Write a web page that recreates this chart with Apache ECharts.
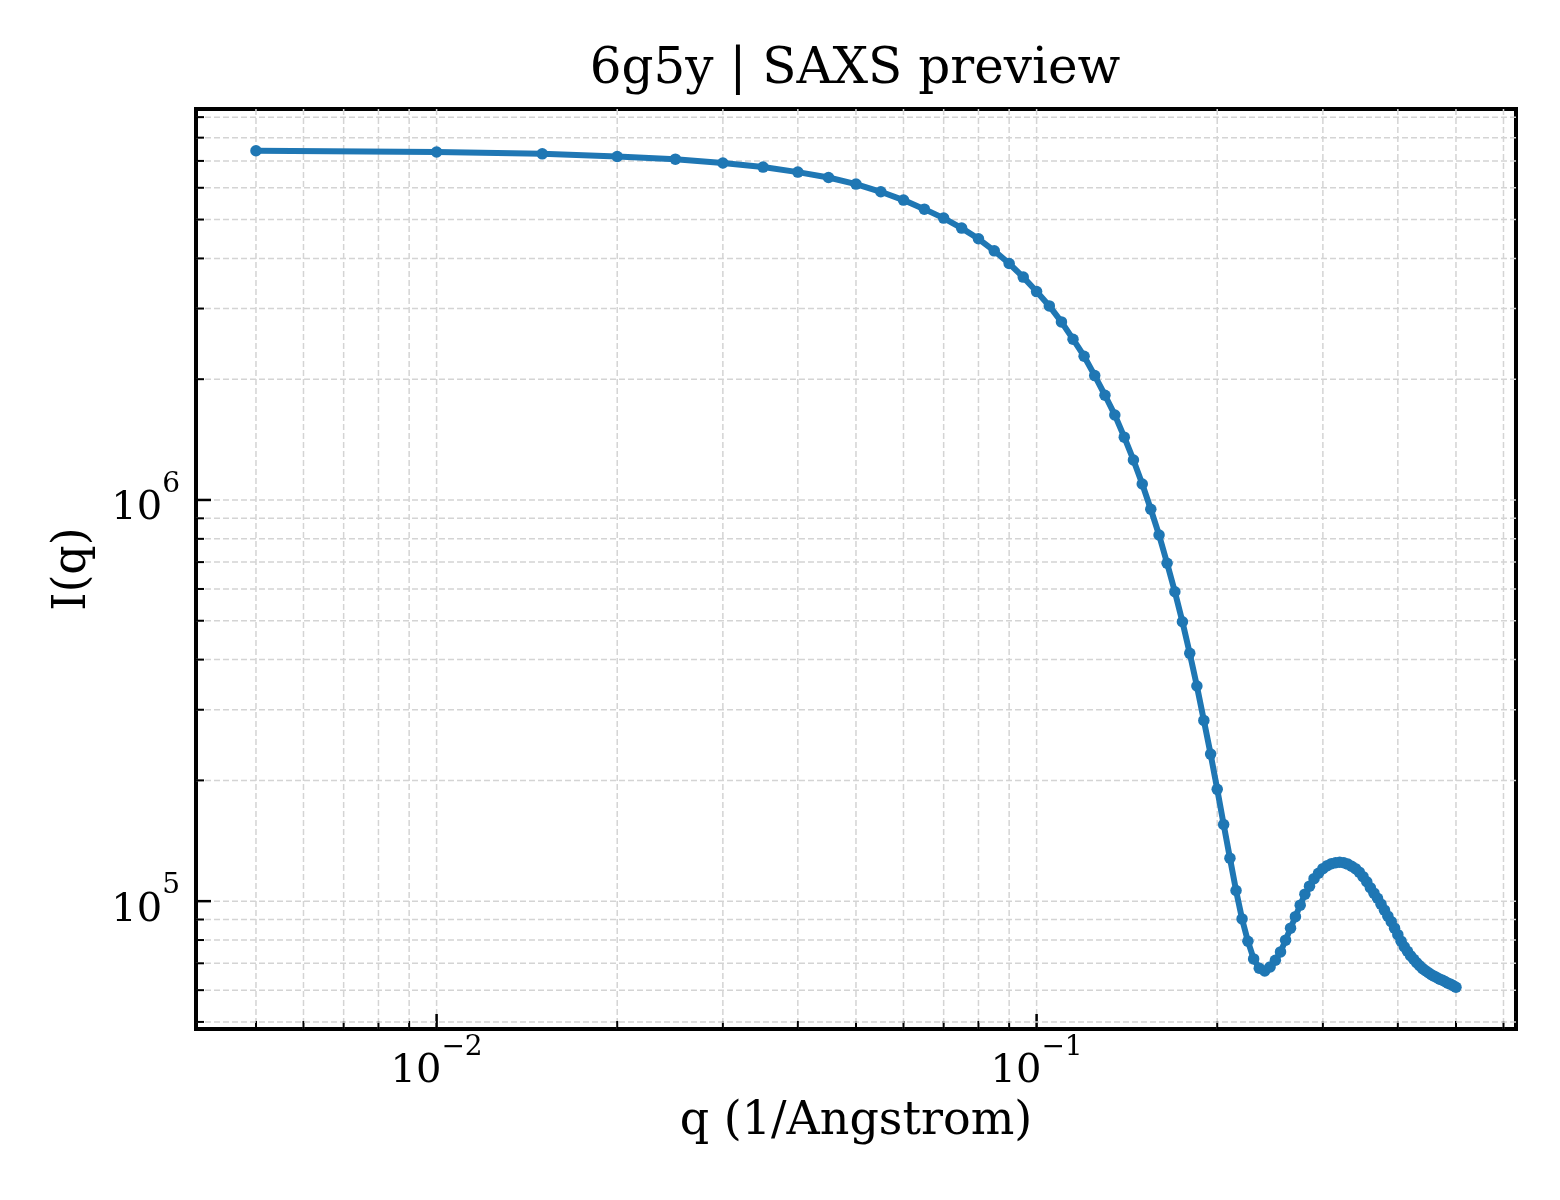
<!DOCTYPE html>
<html lang="en">
<head>
    <meta charset="UTF-8">
    <title>6g5y | SAXS preview</title>
    <script src="https://cdn.jsdelivr.net/npm/echarts@6/dist/echarts.min.js"></script>
    <style>
        body { margin: 0; background: #fff; }
    </style>
</head>
<body>
    <div id="main" style="width: 1560px;height:1200px;"></div>

    <script>
        // q in 1/Angstrom
        const q = [
            0.005, 0.010, 0.015, 0.020, 0.025, 0.030, 0.035, 0.040, 0.045, 0.050,
            0.055, 0.060, 0.065, 0.070, 0.075, 0.080, 0.085, 0.090, 0.095, 0.100,
            0.105, 0.110, 0.115, 0.120, 0.125, 0.130, 0.135, 0.140, 0.145, 0.150,
            0.155, 0.160, 0.165, 0.170, 0.175, 0.180, 0.185, 0.190, 0.195, 0.200,
            0.205, 0.210, 0.215, 0.220, 0.225, 0.230, 0.235, 0.240, 0.245, 0.250,
            0.255, 0.260, 0.265, 0.270, 0.275, 0.280, 0.285, 0.290, 0.295, 0.300,
            0.305, 0.310, 0.315, 0.320, 0.325, 0.330, 0.335, 0.340, 0.345, 0.350,
            0.355, 0.360, 0.365, 0.370, 0.375, 0.380, 0.385, 0.390, 0.395, 0.400,
            0.405, 0.410, 0.415, 0.420, 0.425, 0.430, 0.435, 0.440, 0.445, 0.450,
            0.455, 0.460, 0.465, 0.470, 0.475, 0.480, 0.485, 0.490, 0.495, 0.500
        ]
        // I(q)
        const intensity = [
            7420000, 7370000, 7290000, 7180000, 7070000, 6915000, 6757000, 6565000, 6364000, 6128000,
            5863000, 5590000, 5308000, 5041000, 4760000, 4477000, 4178000, 3885000, 3593000, 3307000,
            3046000, 2779000, 2516000, 2282000, 2042000, 1824000, 1629000, 1434000, 1258000, 1096000,
            948000, 818000, 695300, 590400, 497000, 414700, 343700, 282200, 232600, 190000,
            155300, 128000, 106300, 90320, 79470, 71780, 68050, 67010, 68570, 71250,
            74730, 79930, 85650, 91490, 97730, 104100, 108990, 113800, 117400, 120500,
            122600, 124000, 124700, 125100, 124700, 123700, 122200, 120500, 118100, 115100,
            111800, 108000, 104700, 101700, 98290, 94960, 91750, 88900, 85650, 82500,
            79490, 77000, 75030, 73110, 71660, 70230, 69040, 67870, 67090, 66320,
            65560, 65010, 64440, 63890, 63530, 62980, 62440, 62090, 61550, 61020
        ]

        // axis ranges and tick positions
        const xRange = [0.003972, 0.6295]
        const yRange = [48010, 9430000]
        const xMajor = [0.01, 0.1]
        const xMinor = [0.005, 0.006, 0.007, 0.008, 0.009,
            0.02, 0.03, 0.04, 0.05, 0.06, 0.07, 0.08, 0.09,
            0.2, 0.3, 0.4, 0.5, 0.6]
        const yMajor = [1e5, 1e6]
        const yMinor = [5e4, 6e4, 7e4, 8e4, 9e4,
            2e5, 3e5, 4e5, 5e5, 6e5, 7e5, 8e5, 9e5,
            2e6, 3e6, 4e6, 5e6, 6e6, 7e6, 8e6, 9e6]

        const FONT = "DejaVu Serif"

        // [x, y, axis(0=x,1=y), major]
        const tickData = []
        xMajor.forEach(v => tickData.push([v, yRange[0], 0, 1]))
        xMinor.forEach(v => tickData.push([v, yRange[0], 0, 0]))
        yMajor.forEach(v => tickData.push([xRange[0], v, 1, 1]))
        yMinor.forEach(v => tickData.push([xRange[0], v, 1, 0]))

        function powLabel(v) {
            const e = Math.round(Math.log10(v))
            if (Math.abs(Math.log10(v) - e) > 1e-6) return ''
            return '{b|10}{s|' + String(e).replace('-', '\u2212') + '}'
        }

        const labelRich = {
            b: { fontFamily: FONT, fontSize: 40, lineHeight: 58, verticalAlign: 'bottom', color: '#000' },
            s: { fontFamily: FONT, fontSize: 28, lineHeight: 30, verticalAlign: 'top', color: '#000' }
        }

        const chart = echarts.init(document.getElementById("main"))
        const option = {
            backgroundColor: '#fff',
            animation: false,
            title: {
                text: '6g5y | SAXS preview',
                left: 850,
                top: 40,
                textAlign: 'center',
                textStyle: { fontFamily: FONT, fontSize: 50, fontWeight: 'normal', color: '#000' }
            },
            grid: {
                left: 196, top: 109, width: 1320, height: 920,
                show: true,
                borderColor: '#000',
                borderWidth: 4,
                backgroundColor: 'transparent'
            },
            xAxis: {
                type: 'log',
                logBase: 10,
                min: xRange[0],
                max: xRange[1],
                name: 'q (1/Angstrom)',
                nameLocation: 'middle',
                nameGap: 70,
                nameTextStyle: { fontFamily: FONT, fontSize: 46, color: '#000' },
                axisLine: { show: false },
                axisTick: { show: false },
                splitLine: { show: false },
                minorTick: { show: false },
                axisLabel: {
                    margin: 5,
                    formatter: powLabel,
                    rich: labelRich,
                    showMinLabel: false,
                    showMaxLabel: false
                }
            },
            yAxis: {
                type: 'log',
                logBase: 10,
                min: yRange[0],
                max: yRange[1],
                name: 'I(q)',
                nameLocation: 'middle',
                nameGap: 100,
                nameTextStyle: { fontFamily: FONT, fontSize: 46, color: '#000' },
                axisLine: { show: false },
                axisTick: { show: false },
                splitLine: { show: false },
                minorTick: { show: false },
                axisLabel: {
                    margin: 16,
                    formatter: powLabel,
                    rich: labelRich,
                    showMinLabel: false,
                    showMaxLabel: false
                }
            },
            series: [
                {
                    // grid lines + inward ticks, placed through the axes
                    type: 'custom',
                    silent: true,
                    z: 1,
                    clip: false,
                    data: tickData,
                    renderItem: function (params, api) {
                        const cs = params.coordSys
                        const p = api.coord([api.value(0), api.value(1)])
                        const major = api.value(3) === 1
                        const len = major ? 15 : 8
                        const tickStyle = { stroke: '#000', lineWidth: major ? 2.5 : 2 }
                        const gridStyle = { stroke: '#d4d4d4', lineWidth: 1.5, lineDash: [6, 3] }
                        if (api.value(2) === 0) {
                            const x = p[0]
                            return {
                                type: 'group', children: [
                                    { type: 'line', shape: { x1: x, y1: cs.y, x2: x, y2: cs.y + cs.height }, style: gridStyle },
                                    { type: 'line', shape: { x1: x, y1: cs.y + cs.height, x2: x, y2: cs.y + cs.height - len }, style: tickStyle }
                                ]
                            }
                        }
                        const y = p[1]
                        return {
                            type: 'group', children: [
                                { type: 'line', shape: { x1: cs.x, y1: y, x2: cs.x + cs.width, y2: y }, style: gridStyle },
                                { type: 'line', shape: { x1: cs.x, y1: y, x2: cs.x + len, y2: y }, style: tickStyle }
                            ]
                        }
                    }
                },
                {
                    type: 'line',
                    z: 3,
                    data: q.map((v, i) => [v, intensity[i]]),
                    showAllSymbol: true,
                    symbol: 'circle',
                    symbolSize: 11.5,
                    itemStyle: { color: '#1f77b4' },
                    lineStyle: { color: '#1f77b4', width: 6 }
                }
            ]
        }
        chart.setOption(option)
    </script>
</body>
</html>
